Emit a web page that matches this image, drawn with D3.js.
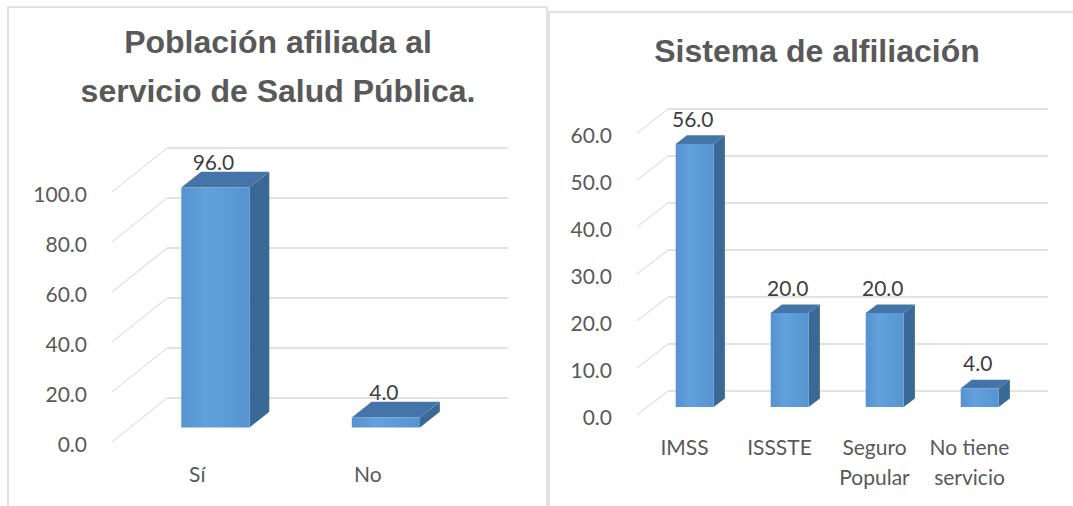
<!DOCTYPE html>
<html>
<head>
<meta charset="utf-8">
<script src="https://cdnjs.cloudflare.com/ajax/libs/d3/7.8.5/d3.min.js"></script>
<style>
  body { margin: 0; background: #fff; }
  svg { display: block; }
</style>
</head>
<body>
<script>
// Data
let afiliadaCategories = ['Sí', 'No']
let afiliadaValues = [96.0, 4.0]
let afiliadaTicks = [0, 20, 40, 60, 80, 100]

let sistemaCategories = ['IMSS', 'ISSSTE', 'Seguro\nPopular', 'No tiene\nservicio']
let sistemaValues = [56.0, 20.0, 20.0, 4.0]
let sistemaTicks = [0, 10, 20, 30, 40, 50, 60]

let svg = d3.select('body').append('svg')
  .attr('width', 1073)
  .attr('height', 506)

// Gradient for the front face of the columns
let grad = svg.append('defs').append('linearGradient')
  .attr('id', 'barFront')
  .attr('x1', 0).attr('x2', 1).attr('y1', 0).attr('y2', 0)
grad.append('stop').attr('offset', '0%').attr('stop-color', '#5592cf')
grad.append('stop').attr('offset', '35%').attr('stop-color', '#62a1db')
grad.append('stop').attr('offset', '70%').attr('stop-color', '#5b9bd5')
grad.append('stop').attr('offset', '100%').attr('stop-color', '#5793d0')

// Panel frames
svg.append('rect')
  .attr('x', 8).attr('y', 7).attr('width', 539).attr('height', 520)
  .attr('fill', 'none').attr('stroke', '#d9d9d9').attr('stroke-width', 1.5)
svg.append('rect')
  .attr('x', 549).attr('y', 12).attr('width', 540).attr('height', 520)
  .attr('fill', 'none').attr('stroke', '#d9d9d9').attr('stroke-width', 1.5)

function make3DBarChart (svg, {
  title,
  titleX,
  titleY,
  categories,
  values,
  ticks,
  xRange,
  yRange,
  depth
}) {
  let g = svg.append('g')

  // Scales: x is the front edge of the floor, y is the front of the side wall
  let x = d3.scaleBand().domain(categories).range(xRange).padding(0)
  let y = d3.scaleLinear().domain(d3.extent(ticks)).range(yRange)

  // oblique projection: z = 0 front, z = 1 back wall
  let project = (px, v, z) => [px + z * depth.dx, y(v) - z * depth.dy]
  let pts = arr => arr.map(p => p.join(',')).join(' ')

  let z1 = 0.33
  let z2 = 0.69
  let barWidth = x.bandwidth() * 0.4
  let fmt = d3.format('.1f')
  let font = 'Lato, sans-serif'

  // Title
  g.append('text')
    .attr('x', titleX)
    .attr('y', titleY)
    .attr('text-anchor', 'middle')
    .style('font-family', '"Liberation Sans", Arial, sans-serif')
    .style('font-weight', 'bold')
    .style('font-size', '32px')
    .style('fill', '#595959')
    .selectAll('tspan')
    .data(title)
    .enter()
    .append('tspan')
    .attr('x', titleX)
    .attr('dy', (d, i) => i === 0 ? 0 : 49)
    .text(d => d)

  // Back wall gridlines and side wall diagonals
  g.selectAll('.grid')
    .data(ticks)
    .enter()
    .append('line')
    .attr('x1', t => project(xRange[0], t, 1)[0])
    .attr('y1', t => project(xRange[0], t, 1)[1])
    .attr('x2', t => project(xRange[1], t, 1)[0])
    .attr('y2', t => project(xRange[1], t, 1)[1])
    .attr('stroke', '#d9d9d9')
    .attr('stroke-width', 1.4)

  g.selectAll('.diag')
    .data(ticks)
    .enter()
    .append('line')
    .attr('x1', t => project(xRange[0], t, 0)[0])
    .attr('y1', t => project(xRange[0], t, 0)[1])
    .attr('x2', t => project(xRange[0], t, 1)[0])
    .attr('y2', t => project(xRange[0], t, 1)[1])
    .attr('stroke', '#e4e4e4')
    .attr('stroke-width', 1.5)

  // Y tick labels
  g.selectAll('.tick')
    .data(ticks)
    .enter()
    .append('text')
    .attr('x', xRange[0] - 25)
    .attr('y', t => y(t) + 3)
    .attr('dy', '0.35em')
    .attr('text-anchor', 'end')
    .style('font-family', font)
    .style('font-size', '21px')
    .style('fill', '#595959')
    .text(fmt)

  let data = categories.map((c, i) => ({ c, v: values[i] }))

  let bars = g.selectAll('.bar')
    .data(data)
    .enter()
    .append('g')

  let left = d => x(d.c) + x.bandwidth() / 2 - barWidth / 2
  let right = d => x(d.c) + x.bandwidth() / 2 + barWidth / 2

  // side face
  bars.append('polygon')
    .attr('points', d => pts([
      project(right(d), d.v, z1), project(right(d), d.v, z2),
      project(right(d), 0, z2), project(right(d), 0, z1)
    ]))
    .attr('fill', '#3b6995')

  // top face
  bars.append('polygon')
    .attr('points', d => pts([
      project(left(d), d.v, z1), project(left(d), d.v, z2),
      project(right(d), d.v, z2), project(right(d), d.v, z1)
    ]))
    .attr('fill', '#4574a8')

  // front face
  bars.append('polygon')
    .attr('points', d => pts([
      project(left(d), d.v, z1), project(right(d), d.v, z1),
      project(right(d), 0, z1), project(left(d), 0, z1)
    ]))
    .attr('fill', 'url(#barFront)')

  // value labels
  bars.append('text')
    .attr('x', d => project(x(d.c) + x.bandwidth() / 2, d.v, z1)[0] - 2)
    .attr('y', d => project(0, d.v, z1)[1] - 17)
    .attr('text-anchor', 'middle')
    .style('font-family', font)
    .style('font-size', '21px')
    .style('fill', '#404040')
    .text(d => fmt(d.v))

  // category labels, on the front edge of the floor
  let cats = g.selectAll('.cat')
    .data(categories)
    .enter()
    .append('text')
    .attr('text-anchor', 'middle')
    .style('font-family', font)
    .style('font-size', '21px')
    .style('fill', '#595959')

  cats.selectAll('tspan')
    .data(c => c.split('\n').map(line => ({ c, line })))
    .enter()
    .append('tspan')
    .attr('x', d => x(d.c) + x.bandwidth() / 2)
    .attr('y', (d, i) => y(0) + 40 + i * 30)
    .text(d => d.line)
}

make3DBarChart(svg, {
  title: ['Población afiliada al', 'servicio de Salud Pública.'],
  titleX: 278,
  titleY: 53,
  categories: afiliadaCategories,
  values: afiliadaValues,
  ticks: afiliadaTicks,
  xRange: [112, 453],
  yRange: [442, 192],
  depth: { dx: 55, dy: 44 }
})

make3DBarChart(svg, {
  title: ['Sistema de alfiliación'],
  titleX: 817,
  titleY: 62,
  categories: sistemaCategories,
  values: sistemaValues,
  ticks: sistemaTicks,
  xRange: [637, 1017],
  yRange: [415, 133],
  depth: { dx: 31, dy: 24 }
})
</script>
</body>
</html>
